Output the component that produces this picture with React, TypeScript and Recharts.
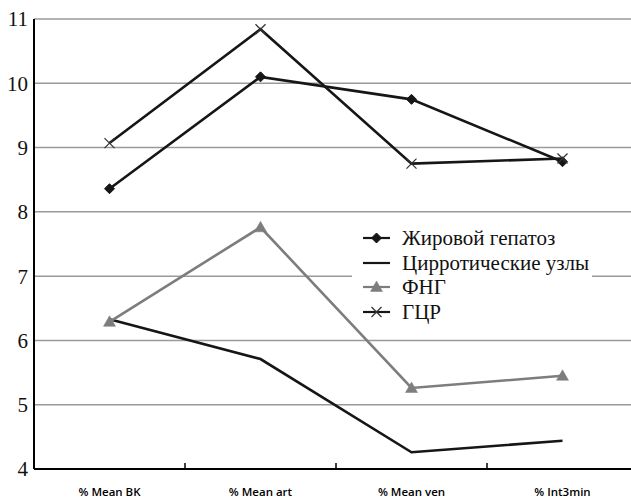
import React from 'react';
import { LineChart, Line, XAxis, YAxis, CartesianGrid, Legend } from 'recharts';

const categories = ['% Mean BK', '% Mean art', '% Mean ven', '% Int3min'];
const fattyValues = [8.36, 10.1, 9.75, 8.78];
const cirrhoticValues = [6.33, 5.71, 4.26, 4.44];
const fngValues = [6.29, 7.76, 5.26, 5.45];
const hccValues = [9.07, 10.84, 8.75, 8.83];
const yTicks = [4, 5, 6, 7, 8, 9, 10, 11];

const seriesKeys = ['fatty', 'cirrhotic', 'fng', 'hcc'];
const seriesNames: Record<string, string> = {
  fatty: 'Жировой гепатоз',
  cirrhotic: 'Цирротические узлы',
  fng: 'ФНГ',
  hcc: 'ГЦР',
};

const data = categories.map((c, i) => ({
  name: c,
  fatty: fattyValues[i],
  cirrhotic: cirrhoticValues[i],
  fng: fngValues[i],
  hcc: hccValues[i],
}));

const BLACK = '#161616';
const GRAY = '#7d7d7d';
const SERIF = "'Liberation Serif', serif";

const Diamond = ({ cx, cy, s = 5 }: any) => (
  <path d={`M${cx},${cy - s} L${cx + s},${cy} L${cx},${cy + s} L${cx - s},${cy} Z`} fill={BLACK} stroke={BLACK} strokeWidth={1} />
);
const Triangle = ({ cx, cy, s = 6 }: any) => (
  <path d={`M${cx},${cy - s} L${cx + s},${cy + s * 0.75} L${cx - s},${cy + s * 0.75} Z`} fill={GRAY} stroke={GRAY} strokeWidth={0.5} />
);
const Cross = ({ cx, cy, s = 5 }: any) => (
  <g>
    <line x1={cx - s} y1={cy - s} x2={cx + s} y2={cy + s} stroke="#333" strokeWidth={1.2} />
    <line x1={cx - s} y1={cy + s} x2={cx + s} y2={cy - s} stroke="#333" strokeWidth={1.2} />
  </g>
);

const markerFor = (key: string, cx: number, cy: number, k?: any) => {
  if (key === 'fatty') return <Diamond key={k} cx={cx} cy={cy} />;
  if (key === 'fng') return <Triangle key={k} cx={cx} cy={cy} />;
  if (key === 'hcc') return <Cross key={k} cx={cx} cy={cy} />;
  return <g key={k} />;
};

const XTick = (props: any) => {
  const { x, y, payload, index } = props;
  const off = payload && payload.offset ? payload.offset : 75.5;
  return (
    <g>
      {index > 0 && (
        <line x1={x - off} x2={x - off} y1={y} y2={y - 6} stroke="#000" strokeWidth={1.5} />
      )}
      <text x={x} y={y + 27} textAnchor="middle" fontFamily="Open Sans" fontSize={11.5} fontWeight={600} fill="#000">
        {payload.value}
      </text>
    </g>
  );
};

const LegendContent = () => (
  <div style={{ background: '#fff', width: 240, height: 104, boxSizing: 'border-box', paddingTop: 7 }}>
    {seriesKeys.map((key) => {
      const color = key === 'fng' ? GRAY : BLACK;
      return (
        <div key={key} style={{ display: 'flex', alignItems: 'center', height: 24.6 }}>
          <svg width={50} height={20} style={{ flex: 'none' }}>
            <line x1={11} x2={38} y1={10} y2={10} stroke={color} strokeWidth={2.2} />
            {markerFor(key, 24.5, 10)}
          </svg>
          <span style={{ fontFamily: SERIF, fontSize: 21, color: '#111', lineHeight: '20px', whiteSpace: 'nowrap' }}>
            {seriesNames[key]}
          </span>
        </div>
      );
    })}
  </div>
);

export default function App() {
  return (
    <div style={{ position: 'absolute', left: 0, top: 0, width: 631, height: 498, overflow: 'hidden', background: '#fff' }}>
      <LineChart width={640} height={498} data={data} margin={{ top: 19, right: 2, bottom: 0, left: 0 }}>
        <CartesianGrid vertical={false} stroke="#9a9a9a" strokeWidth={1.5} />
        <XAxis
          dataKey="name"
          scale="band"
          height={29}
          axisLine={{ stroke: '#000', strokeWidth: 2 }}
          tickLine={false}
          tickSize={0}
          tickMargin={0}
          tick={<XTick />}
          interval={0}
        />
        <YAxis
          domain={[4, 11]}
          ticks={yTicks}
          width={34}
          axisLine={{ stroke: '#000', strokeWidth: 2 }}
          tickLine={false}
          tickSize={0}
          tickMargin={6}
          tick={{ fontFamily: SERIF, fontSize: 21, fill: '#111' }}
          interval={0}
        />
        <Legend
          layout="vertical"
          align="center"
          verticalAlign="middle"
          wrapperStyle={{ left: 352, top: 219, width: 240, height: 104 }}
          content={<LegendContent />}
        />
        <Line
          dataKey="fatty"
          name={seriesNames.fatty}
          stroke={BLACK}
          strokeWidth={2.6}
          isAnimationActive={false}
          dot={(p: any) => markerFor('fatty', p.cx, p.cy, p.index)}
        />
        <Line
          dataKey="cirrhotic"
          name={seriesNames.cirrhotic}
          stroke={BLACK}
          strokeWidth={2.6}
          isAnimationActive={false}
          dot={false}
        />
        <Line
          dataKey="fng"
          name={seriesNames.fng}
          stroke={GRAY}
          strokeWidth={2.6}
          isAnimationActive={false}
          dot={(p: any) => markerFor('fng', p.cx, p.cy, p.index)}
        />
        <Line
          dataKey="hcc"
          name={seriesNames.hcc}
          stroke={BLACK}
          strokeWidth={2.6}
          isAnimationActive={false}
          dot={(p: any) => markerFor('hcc', p.cx, p.cy, p.index)}
        />
      </LineChart>
    </div>
  );
}
